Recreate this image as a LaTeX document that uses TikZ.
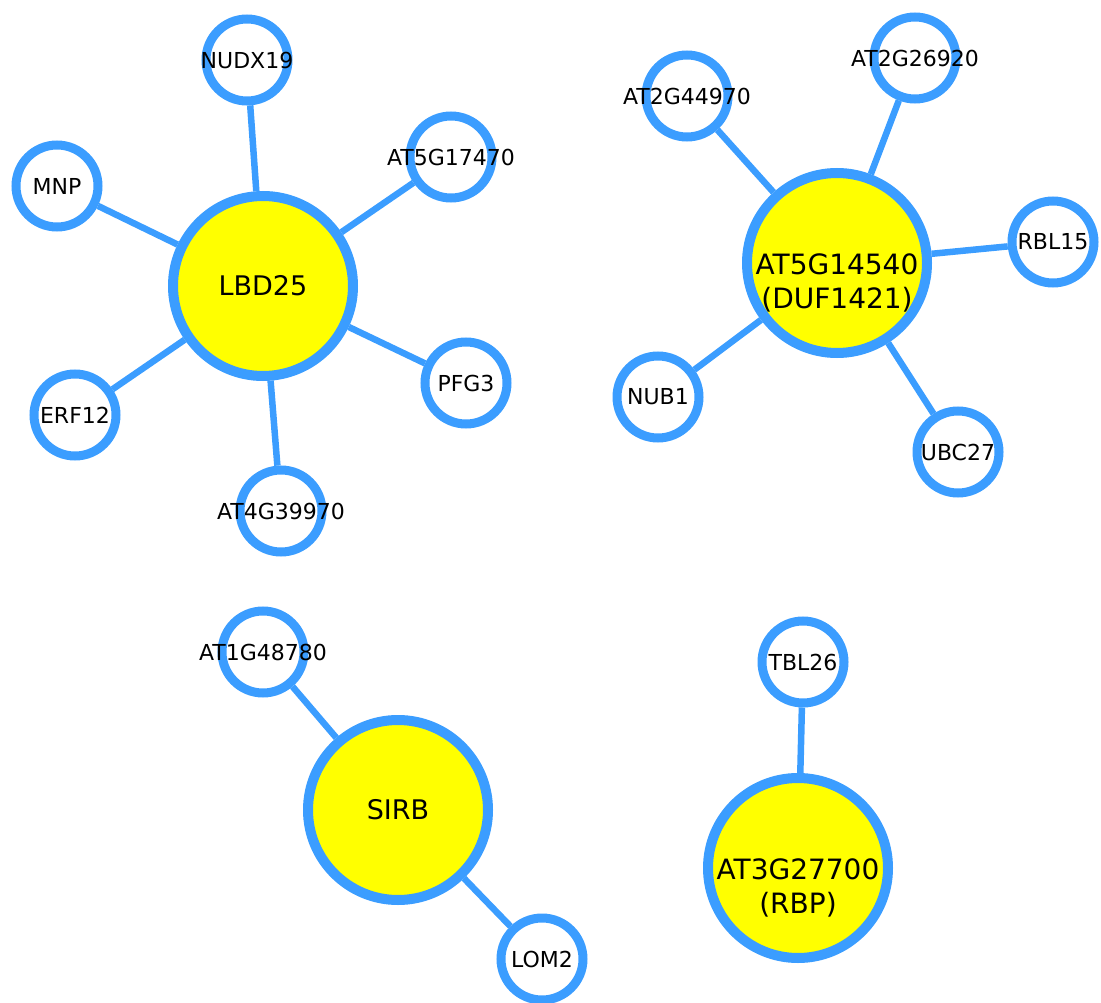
\documentclass[tikz,border=0pt]{standalone}
\usepackage{fontspec}
\setmainfont{DejaVu Sans}
\usetikzlibrary{backgrounds}
\definecolor{netblue}{RGB}{59,157,255}
\definecolor{hubyellow}{RGB}{255,255,0}
\tikzset{
  hub/.style={circle, draw=netblue, fill=hubyellow, line width=10pt,
    minimum size=180pt, inner sep=0pt, font=\fontsize{27}{32}\selectfont},
  leaf/.style={circle, draw=netblue, fill=white, line width=9pt,
    minimum size=82pt, inner sep=0pt},
  leaftext/.style={font=\fontsize{22}{26}\selectfont, inner sep=0pt},
  hubtext/.style={font=\fontsize{28}{34}\selectfont, align=center,
    inner sep=0pt, anchor=north},
  link/.style={draw=netblue, line width=6.5pt},
}
\begin{document}
\begin{tikzpicture}[x=1pt, y=-1pt]
\useasboundingbox (0,0) rectangle (1101,1003);

% LBD25 cluster
\node[hub] (lbd25) at (263,286) {LBD25};
\node[leaf, label={[leaftext]center:NUDX19}] (nudx19) at (247,60) {};
\node[leaf, label={[leaftext]center:AT5G17470}] (at5g17470) at (451,157) {};
\node[leaf, label={[leaftext]center:MNP}] (mnp) at (57,186) {};
\node[leaf, label={[leaftext]center:PFG3}] (pfg3) at (466,383) {};
\node[leaf, label={[leaftext]center:ERF12}] (erf12) at (75,415) {};
\node[leaf, label={[leaftext]center:AT4G39970}] (at4g39970) at (281,511) {};

% AT5G14540 cluster
\node[hub] (at5g14540) at (837,263) {};
\node[hubtext] at (837,254) {AT5G14540\\(DUF1421)};
\node[leaf, label={[leaftext]center:AT2G44970}] (at2g44970) at (687,96) {};
\node[leaf, label={[leaftext]center:AT2G26920}] (at2g26920) at (915,58) {};
\node[leaf, label={[leaftext]center:RBL15}] (rbl15) at (1053,242) {};
\node[leaf, label={[leaftext]center:NUB1}] (nub1) at (658,397) {};
\node[leaf, label={[leaftext]center:UBC27}] (ubc27) at (958,452) {};

% SIRB cluster
\node[hub] (sirb) at (398,810) {SIRB};
\node[leaf, label={[leaftext]center:AT1G48780}] (at1g48780) at (263,652) {};
\node[leaf, label={[leaftext]center:LOM2}] (lom2) at (542,959) {};

% AT3G27700 cluster
\node[hub] (at3g27700) at (798,868) {};
\node[hubtext] at (798,859) {AT3G27700\\(RBP)};
\node[leaf, label={[leaftext]center:TBL26}] (tbl26) at (803,662) {};

\begin{pgfonlayer}{background}
  \foreach \leafnode in {nudx19,at5g17470,mnp,pfg3,erf12,at4g39970}
    \draw[link] (lbd25) -- (\leafnode);
  \foreach \leafnode in {at2g44970,at2g26920,rbl15,nub1,ubc27}
    \draw[link] (at5g14540) -- (\leafnode);
  \foreach \leafnode in {at1g48780,lom2}
    \draw[link] (sirb) -- (\leafnode);
  \draw[link] (at3g27700) -- (tbl26);
\end{pgfonlayer}
\end{tikzpicture}
\end{document}
